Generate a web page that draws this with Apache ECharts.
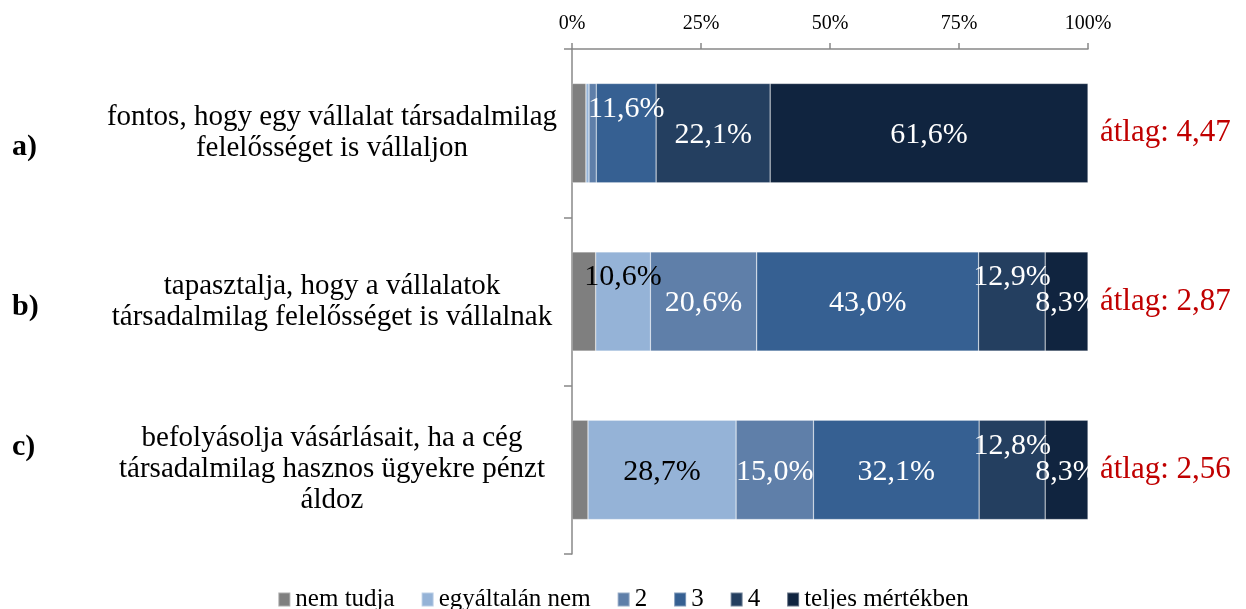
<!DOCTYPE html>
<html lang="hu">
<head>
<meta charset="UTF-8" />
<title>Vállalati társadalmi felelősség</title>
<style>
  html, body { margin: 0; padding: 0; background: #fff; }
  #chart { width: 1246px; height: 609px; }
</style>
</head>
<body>
<div id="chart"></div>
<script src="https://cdn.jsdelivr.net/npm/echarts@6/dist/echarts.min.js"></script>
<script>
  // Kérdések (felülről lefelé)
  const letters = ['a)', 'b)', 'c)'];
  const questions = [
    'fontos, hogy egy vállalat társadalmilag\nfelelősséget is vállaljon',
    'tapasztalja, hogy a vállalatok\ntársadalmilag felelősséget is vállalnak',
    'befolyásolja vásárlásait, ha a cég\ntársadalmilag hasznos ügyekre pénzt\náldoz'
  ];
  const averages = ['átlag: 4,47', 'átlag: 2,87', 'átlag: 2,56'];

  // Válaszok megoszlása (%)
  const nemTudja   = [2.7, 4.6, 3.1];
  const egyaltalan = [0.6, 10.6, 28.7];
  const ketto      = [1.4, 20.6, 15.0];
  const harom      = [11.6, 43.0, 32.1];
  const negy       = [22.1, 12.9, 12.8];
  const teljes     = [61.6, 8.3, 8.3];

  const xTicks = [0, 25, 50, 75, 100];

  const FONT = "'Liberation Serif', 'Times New Roman', serif";

  // felfelé tolt címkék (sor indexek)
  const raised = { egyaltalan: [1], harom: [0], negy: [1, 2] };

  function makeSeries(name, key, values, color, labelColor) {
    return {
      name: name,
      type: 'bar',
      stack: 'total',
      barCategoryGap: '41%',
      itemStyle: { color: color, borderColor: 'rgba(255,255,255,0.35)', borderWidth: 0.6 },
      data: values.map((v, i) => ({
        value: v,
        label: {
          show: key !== 'nemTudja' && v >= 5,
          offset: (raised[key] || []).includes(i) ? [0, -24] : [0, 2]
        }
      })),
      label: {
        position: 'inside',
        color: labelColor,
        fontFamily: FONT,
        fontSize: 30,
        formatter: p => p.value.toFixed(1).replace('.', ',') + '%'
      },
      emphasis: { disabled: true }
    };
  }

  const chart = echarts.init(document.getElementById('chart'));

  chart.setOption({
    animation: false,
    textStyle: { fontFamily: FONT },
    grid: { left: 572, right: 158, top: 49, bottom: 55, outerBoundsMode: 'none' },
    legend: {
      top: 582,
      left: 'center',
      itemWidth: 12,
      itemHeight: 14,
      itemGap: 26,
      icon: 'rect',
      textStyle: { fontFamily: FONT, fontSize: 25, color: '#000' },
      data: ['nem tudja', 'egyáltalán nem', '2', '3', '4', 'teljes mértékben']
    },
    xAxis: {
      type: 'value',
      position: 'top',
      min: 0,
      max: 100,
      interval: 25,
      axisLine: { show: true, lineStyle: { color: '#888', width: 1.5 } },
      axisTick: { show: true, length: 6, lineStyle: { color: '#888', width: 1.5 } },
      splitLine: { show: false },
      axisLabel: {
        margin: 15,
        fontFamily: FONT,
        fontSize: 20,
        color: '#000',
        formatter: v => xTicks.includes(v) ? v + '%' : ''
      }
    },
    yAxis: [
      {
        type: 'category',
        inverse: true,
        position: 'left',
        data: questions,
        axisLine: { show: true, lineStyle: { color: '#888', width: 1.5 } },
        axisTick: { show: true, length: 8, lineStyle: { color: '#888', width: 1.5 } },
        axisLabel: {
          margin: 240,
          align: 'center',
          fontFamily: FONT,
          fontSize: 29,
          lineHeight: 31,
          color: '#000',
          padding: [4, 0, 0, 0]
        }
      },
      {
        type: 'category',
        inverse: true,
        position: 'left',
        data: letters,
        axisLine: { show: false },
        axisTick: { show: false },
        axisLabel: {
          margin: 560,
          align: 'left',
          formatter: (v, i) => '{r' + i + '|' + v + '}',
          rich: {
            r0: { fontFamily: FONT, fontSize: 30, fontWeight: 'bold', color: '#000', padding: [28, 0, 0, 0] },
            r1: { fontFamily: FONT, fontSize: 30, fontWeight: 'bold', color: '#000', padding: [12, 0, 0, 0] },
            r2: { fontFamily: FONT, fontSize: 30, fontWeight: 'bold', color: '#000', padding: [0, 0, 46, 0] }
          }
        }
      },
      {
        type: 'category',
        inverse: true,
        position: 'right',
        data: averages,
        axisLine: { show: false },
        axisTick: { show: false },
        axisLabel: {
          margin: 12,
          align: 'left',
          fontFamily: FONT,
          fontSize: 31,
          color: '#C00000',
          padding: [4, 0, 0, 0]
        }
      }
    ],
    series: [
      makeSeries('nem tudja', 'nemTudja', nemTudja, '#7F7F7F', '#fff'),
      makeSeries('egyáltalán nem', 'egyaltalan', egyaltalan, '#95B3D7', '#000'),
      makeSeries('2', 'ketto', ketto, '#5F7FA9', '#fff'),
      makeSeries('3', 'harom', harom, '#366092', '#fff'),
      makeSeries('4', 'negy', negy, '#243F60', '#fff'),
      makeSeries('teljes mértékben', 'teljes', teljes, '#10243F', '#fff')
    ]
  });
</script>
</body>
</html>
